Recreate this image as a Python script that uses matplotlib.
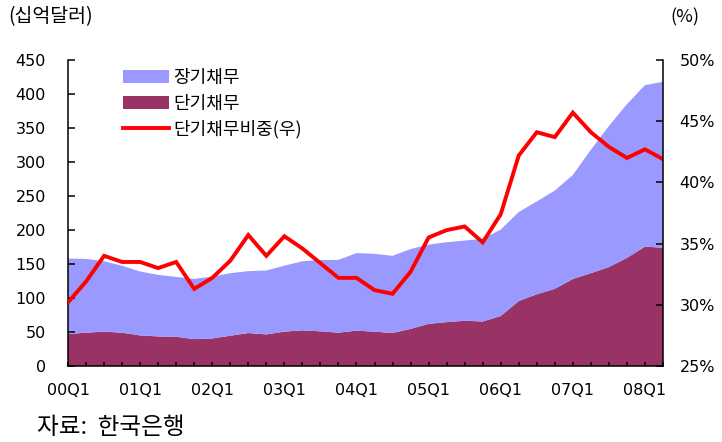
import matplotlib
matplotlib.use("Agg")
import matplotlib.pyplot as plt
from matplotlib.patches import Patch
from matplotlib.lines import Line2D

plt.rcParams['font.family'] = ['DejaVu Sans', 'Noto Sans CJK KR']

quarters = [f"{y:02d}Q{q}" for y in range(0, 9) for q in range(1, 5)][:34]
tick_labels = ['00Q1', '01Q1', '02Q1', '03Q1', '04Q1', '05Q1', '06Q1', '07Q1', '08Q1']

short_term = [47, 49, 50.5, 49, 45, 43.5, 43, 39.5, 40.5, 44.5, 48.5, 46.5, 50.5, 52.5, 51, 49,
              52, 50.5, 48.5, 54.5, 62, 64.5, 66.5, 65.5, 73.5, 95.5, 105.5, 113.5, 128, 136.5,
              145.5, 159, 175.5, 174]
long_term = [111, 108.5, 103.5, 98.5, 94, 90.5, 88, 88.5, 91, 92, 91, 94, 97, 101.5, 105, 107,
             114, 114.5, 113.5, 117.5, 116.5, 117.5, 118, 121.5, 127, 131, 136.5, 144.5, 153,
             181.5, 207.5, 226, 237.5, 244]
short_share = [30.2, 31.9, 34.0, 33.5, 33.5, 33.0, 33.5, 31.3, 32.2, 33.6, 35.7, 34.0, 35.6, 34.6,
               33.4, 32.2, 32.2, 31.2, 30.9, 32.7, 35.5, 36.1, 36.4, 35.1, 37.4, 42.2, 44.1, 43.7,
               45.7, 44.1, 42.9, 42.0, 42.7, 41.9]

c_long = '#9999FF'
c_short = '#993366'
c_line = '#FF0000'

fig = plt.figure(figsize=(7.22, 4.42), dpi=100)
ax = fig.add_axes([68/722, 1-366/442, (663-68)/722, (366-60)/442])
x = list(range(len(quarters)))
ax.stackplot(x, short_term, long_term, colors=[c_short, c_long], linewidth=0)
ax.set_xlim(0, len(quarters) - 1)
ax.set_ylim(0, 450)
ax.set_yticks(range(0, 451, 50))
ax.set_xticks(x)
ax.set_xticklabels([q if q in tick_labels else '' for q in quarters])
ax.tick_params(axis='y', direction='in', length=5, width=1.1, pad=16, labelsize=11.5)
ax.tick_params(axis='x', direction='in', length=3, width=1.1, pad=12, labelsize=11.5)
for s in ['top', 'right']:
    ax.spines[s].set_visible(False)
for s in ['left', 'bottom']:
    ax.spines[s].set_linewidth(1.1)

ax2 = ax.twinx()
ax2.plot(x, short_share, color=c_line, lw=2.8, solid_joinstyle='miter')
ax2.set_ylim(25, 50)
ax2.set_yticks(range(25, 51, 5))
ax2.set_yticklabels([f"{v}%" for v in range(25, 51, 5)])
ax2.tick_params(axis='y', direction='in', length=5, width=1.1, pad=12, labelsize=11.5)
ax2.spines['top'].set_visible(False)
ax2.spines['left'].set_visible(False)
ax2.spines['bottom'].set_visible(False)
ax2.spines['right'].set_linewidth(1.1)

handles = [Patch(facecolor=c_long, edgecolor='none'),
           Patch(facecolor=c_short, edgecolor='none'),
           Line2D([0], [0], color=c_line, lw=2.8)]
labels = ['장기채무', '단기채무', '단기채무비중(우)']
leg = ax2.legend(handles, labels, loc='upper left', bbox_to_anchor=(0.093, 0.97),
                 frameon=False, handlelength=2.55, handleheight=0.72,
                 handletextpad=0.2, labelspacing=0.42, borderpad=0, borderaxespad=0,
                 prop={'family': ['Noto Sans CJK KR'], 'size': 13})

fig.text(8/722, 1-17/442, '(십억달러)', fontsize=14, family=['Noto Sans CJK KR'], va='center', ha='left')
fig.text(670/722, 1-17/442, '(%)', fontsize=13, family=['Noto Sans CJK KR'], va='center', ha='left')
fig.text(37/722, 1-427/442, '자료:  한국은행', fontsize=17, family=['Noto Sans CJK KR'], va='center', ha='left')

fig.savefig('out.png', dpi=100)
